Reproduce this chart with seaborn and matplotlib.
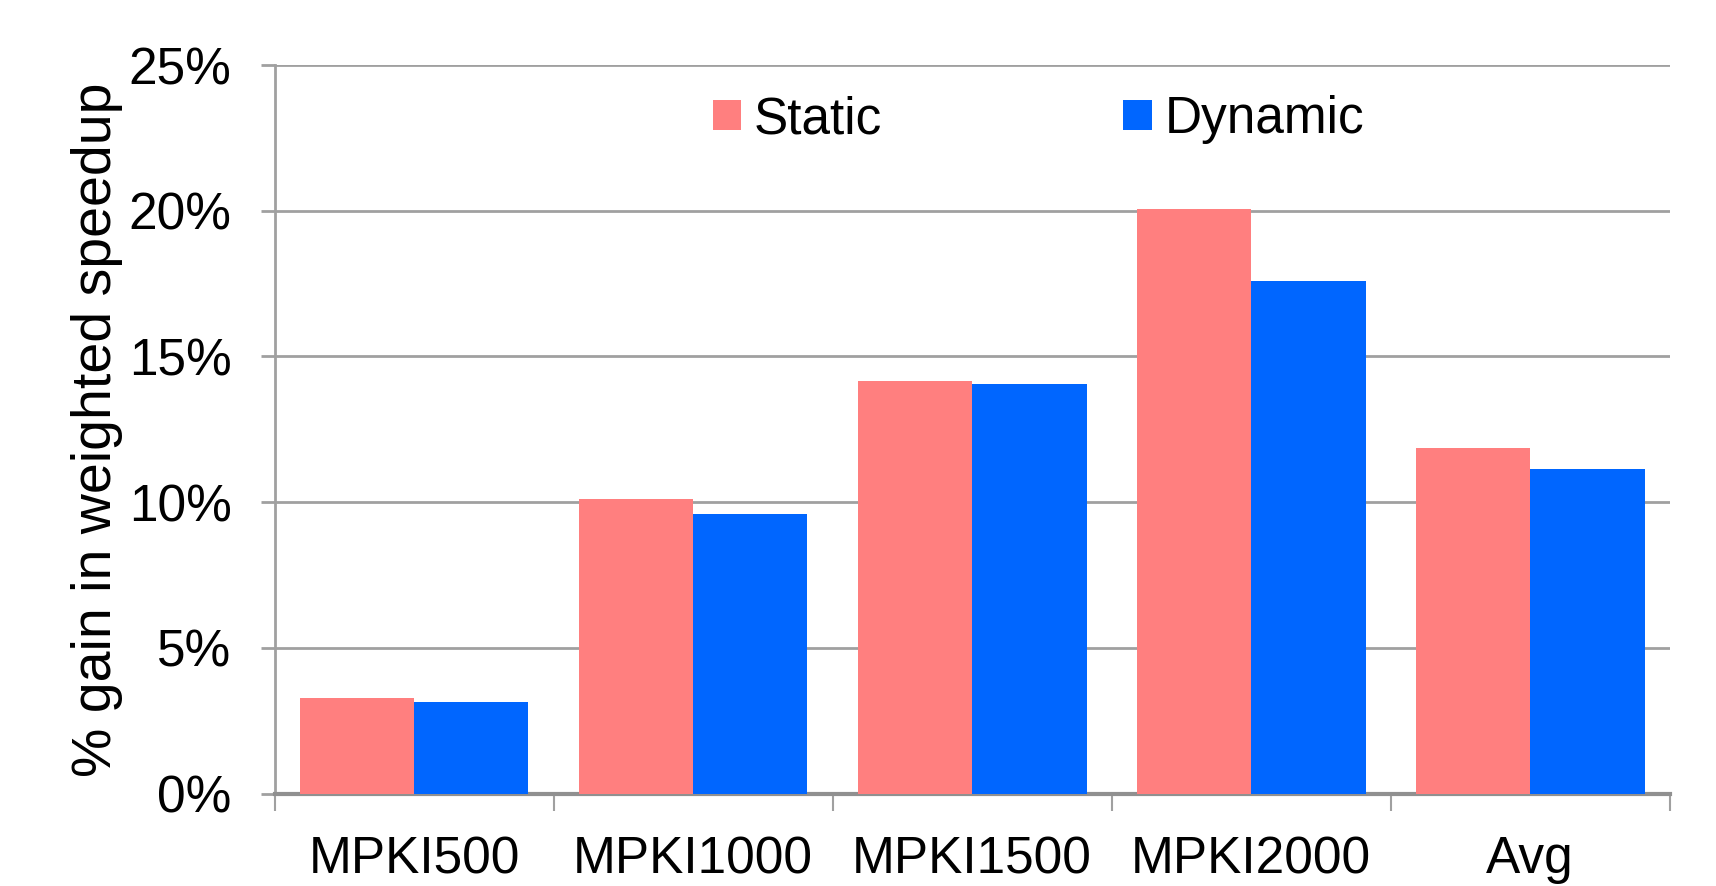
#!/usr/bin/env python3
"""Static vs dynamic: % gain in weighted speedup per MPKI bucket."""

import matplotlib.pyplot as plt
import matplotlib.ticker as mticker
import pandas as pd
import seaborn as sns

CATEGORIES = ["MPKI500", "MPKI1000", "MPKI1500", "MPKI2000", "Avg"]
STATIC = [3.27, 10.1, 14.15, 20.05, 11.87]
DYNAMIC = [3.15, 9.6, 14.04, 17.6, 11.12]
SERIES = ["Static", "Dynamic"]
PALETTE = {"Static": "#FF7F7F", "Dynamic": "#0066FF"}
YTICKS = [0, 5, 10, 15, 20, 25]

GRID = "#A0A0A0"
FONT = 37


def main() -> None:
    sns.set_theme(style="white")
    plt.rcParams["font.family"] = ["Liberation Sans", "DejaVu Sans"]
    plt.rcParams["text.color"] = "black"
    plt.rcParams["axes.labelcolor"] = "black"

    df = pd.DataFrame(
        {
            "category": CATEGORIES * 2,
            "gain": STATIC + DYNAMIC,
            "series": ["Static"] * len(CATEGORIES) + ["Dynamic"] * len(CATEGORIES),
        }
    )

    fig = plt.figure(figsize=(17.16, 8.86), dpi=100)
    ax = fig.add_axes((0.160, 0.1044, 0.813, 0.8222))

    sns.barplot(
        data=df,
        x="category",
        y="gain",
        hue="series",
        hue_order=SERIES,
        order=CATEGORIES,
        palette=PALETTE,
        width=0.82,
        gap=0,
        saturation=1,
        linewidth=0,
        ax=ax,
        zorder=3,
    )

    ax.set_ylim(0, 25)
    ax.set_xlim(-0.5, len(CATEGORIES) - 0.5)
    ax.set_yticks(YTICKS)
    ax.yaxis.set_major_formatter(mticker.FuncFormatter(lambda v, _: f"{v:.0f}%"))
    ax.set_xlabel("")
    ax.set_ylabel("% gain in weighted speedup", fontsize=40, labelpad=4)

    # gridlines only at y ticks, grey
    ax.yaxis.grid(True, color=GRID, linewidth=2, zorder=0)
    ax.xaxis.grid(False)
    ax.set_axisbelow(True)

    for side in ("top", "right"):
        ax.spines[side].set_visible(False)
    ax.spines["left"].set_color(GRID)
    ax.spines["left"].set_linewidth(2)
    ax.spines["bottom"].set_color("#909090")
    ax.spines["bottom"].set_linewidth(3)

    # category labels centred, tick marks at group boundaries
    ax.tick_params(axis="x", which="major", length=0, labelsize=FONT, pad=30,
                   labelcolor="black")
    ax.set_xticks([i - 0.5 for i in range(len(CATEGORIES) + 1)], minor=True)
    ax.tick_params(axis="x", which="minor", length=12, width=1.5, color=GRID,
                   direction="out", bottom=True)
    ax.tick_params(axis="y", length=10, width=2, color=GRID, labelsize=FONT,
                   pad=21, left=True, labelcolor="black")

    if ax.get_legend() is not None:
        ax.get_legend().remove()
    handles = [
        plt.Rectangle((0, 0), 1, 1, facecolor=PALETTE[s], edgecolor="none")
        for s in SERIES
    ]
    ax.legend(
        handles,
        SERIES,
        loc="center",
        bbox_to_anchor=(0.5475, 0.925),
        ncol=2,
        frameon=False,
        fontsize=FONT,
        handlelength=0.55,
        handleheight=0.55,
        handletextpad=0.25,
        columnspacing=4.7,
    )

    fig.savefig("out.png", dpi=100)
    plt.close(fig)


if __name__ == "__main__":
    main()
